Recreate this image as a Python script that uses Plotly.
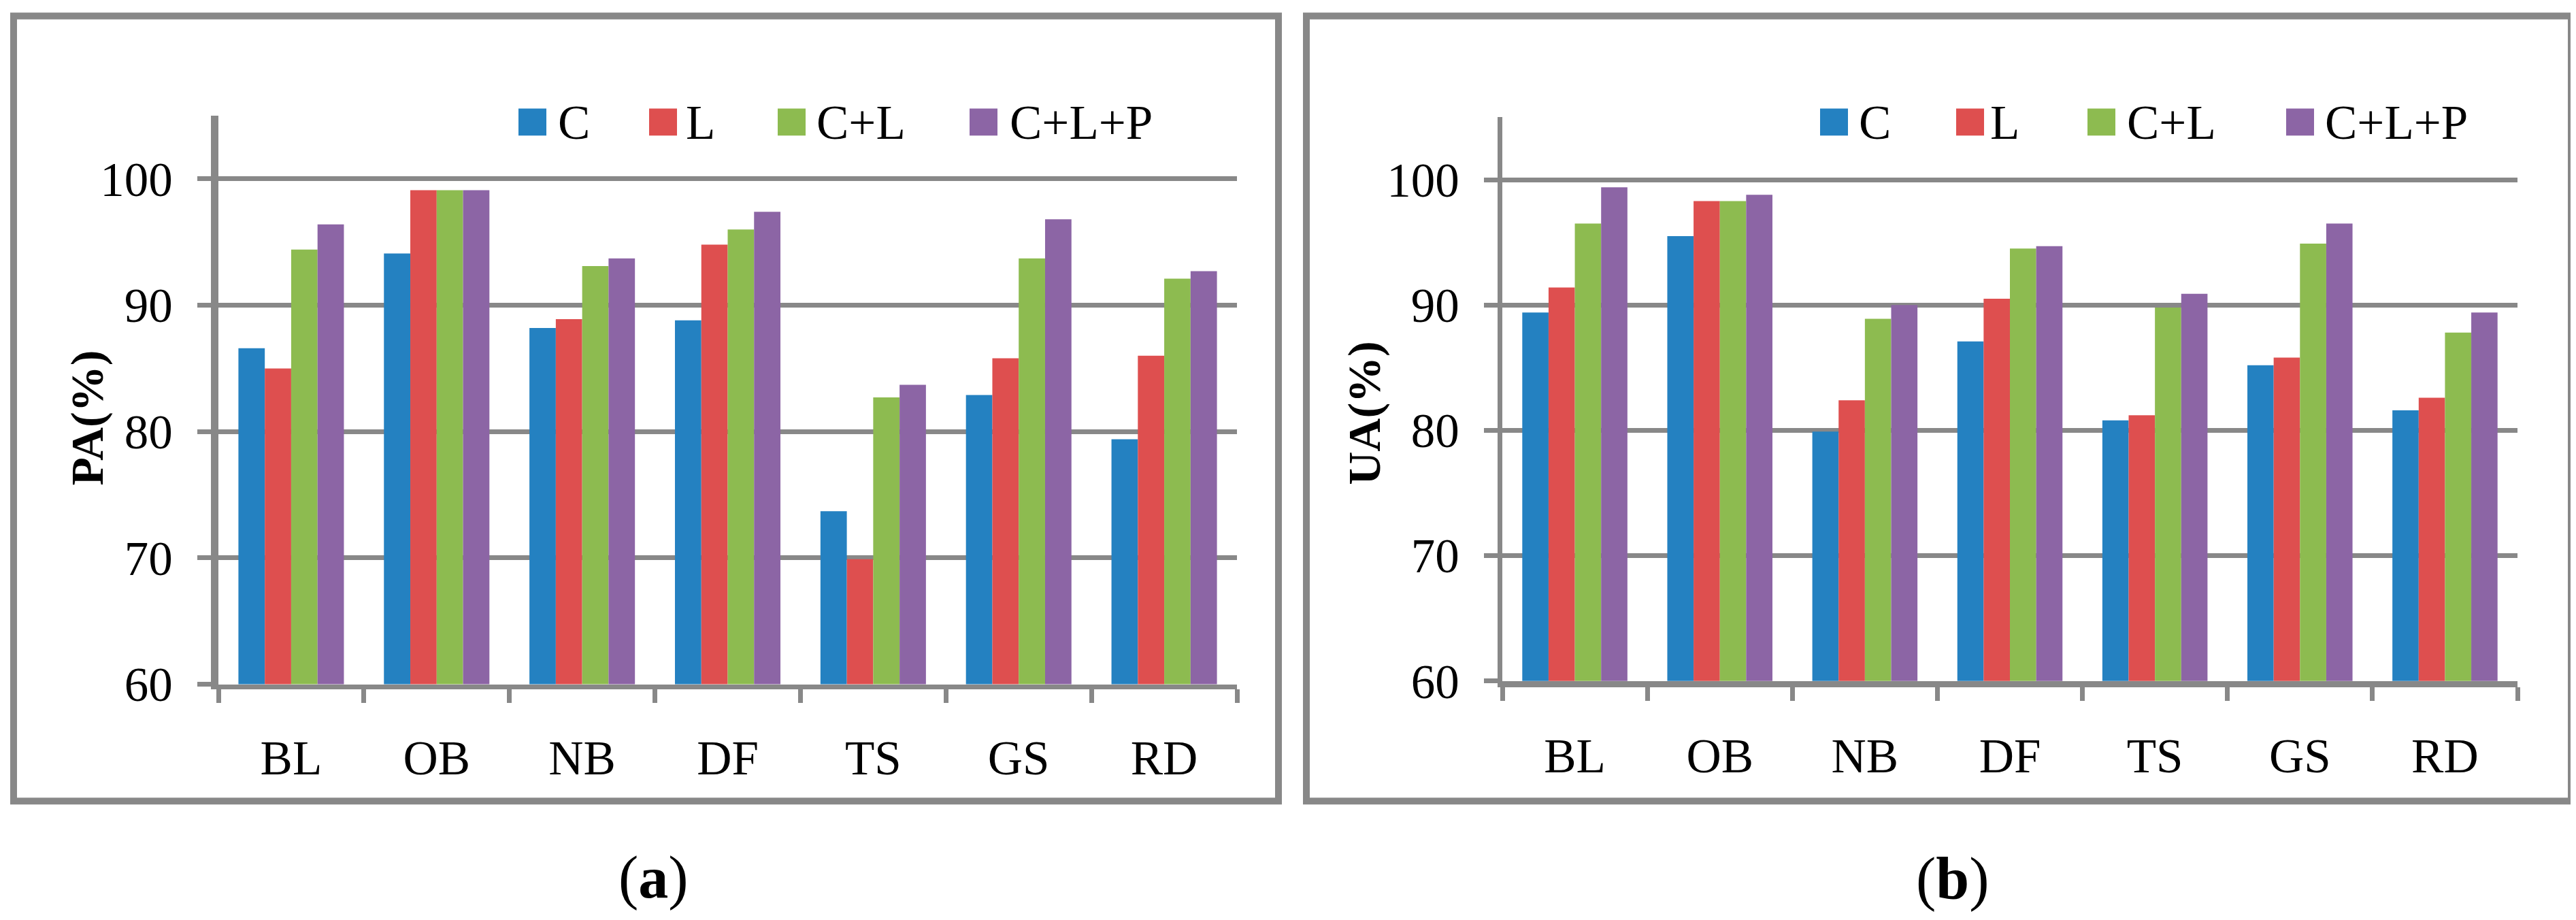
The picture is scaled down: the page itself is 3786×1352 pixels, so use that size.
import plotly.graph_objects as go

W, H = 3786, 1352

categories = ["BL", "OB", "NB", "DF", "TS", "GS", "RD"]
series_names = ["C", "L", "C+L", "C+L+P"]
colors = ["#2481C1", "#DE4F4F", "#8DBB50", "#8C65A5"]

pa_C = [86.6, 94.1, 88.2, 88.8, 73.7, 82.9, 79.4]
pa_L = [85.0, 99.1, 88.9, 94.8, 69.9, 85.8, 86.0]
pa_CL = [94.4, 99.1, 93.1, 96.0, 82.7, 93.7, 92.1]
pa_CLP = [96.4, 99.1, 93.7, 97.4, 83.7, 96.8, 92.7]

ua_C = [89.4, 95.5, 79.9, 87.1, 80.8, 85.2, 81.6]
ua_L = [91.4, 98.3, 82.4, 90.5, 81.2, 85.8, 82.6]
ua_CL = [96.5, 98.3, 88.9, 94.5, 89.8, 94.9, 87.8]
ua_CLP = [99.4, 98.8, 90.0, 94.7, 90.9, 96.5, 89.4]

pa_series = [pa_C, pa_L, pa_CL, pa_CLP]
ua_series = [ua_C, ua_L, ua_CL, ua_CLP]

y_ticks = [60, 70, 80, 90, 100]
y_range = [60, 105]

FONT = "Liberation Serif"
GRAY = "#888888"


def px(x):
    return x / W


def py(y):
    return 1 - y / H


fig = go.Figure()
for vals, name, col in zip(pa_series, series_names, colors):
    fig.add_trace(go.Bar(x=categories, y=vals, name=name, marker_color=col,
                         marker_line_width=0, xaxis="x", yaxis="y", showlegend=False))
for vals, name, col in zip(ua_series, series_names, colors):
    fig.add_trace(go.Bar(x=categories, y=vals, name=name, marker_color=col,
                         marker_line_width=0, xaxis="x2", yaxis="y2", showlegend=False))

xcommon = dict(type="category", showgrid=False, showline=True, linecolor=GRAY,
               ticks="outside", ticklen=20, tickwidth=7, tickcolor=GRAY,
               tickson="boundaries", tickfont=dict(family=FONT, size=71, color="black"),
               ticklabelstandoff=40, fixedrange=True)
ycommon = dict(range=y_range, tickvals=y_ticks, showgrid=True, gridcolor=GRAY, gridwidth=7,
               showline=True, linecolor=GRAY, ticks="outside", ticklen=20, tickwidth=7,
               tickcolor=GRAY, tickfont=dict(family=FONT, size=71, color="black"),
               ticklabelstandoff=22, zeroline=False, fixedrange=True)

fig.update_layout(
    width=W, height=H, autosize=False,
    margin=dict(l=0, r=0, t=0, b=0),
    paper_bgcolor="white", plot_bgcolor="white",
    barmode="group", bargap=0.275, bargroupgap=0,
    xaxis=dict(domain=[px(313), px(1810)], anchor="y", linewidth=7, **xcommon),
    yaxis=dict(domain=[py(1028), py(167)], anchor="x", linewidth=11, **ycommon),
    xaxis2=dict(domain=[px(2200), px(3692)], anchor="y2", linewidth=9, **xcommon),
    yaxis2=dict(domain=[py(1023), py(169)], anchor="x2", linewidth=7, **ycommon),
)

shapes = []
annotations = []

# panel borders
for x0, x1 in [(12, 1871), (1912, 3771)]:
    shapes.append(dict(type="rect", xref="paper", yref="paper",
                       x0=px(x0), x1=px(x1), y0=py(1205), y1=py(16),
                       line=dict(color=GRAY, width=10), fillcolor="rgba(0,0,0,0)"))

# legends
legend_sets = [
    ([754, 946, 1135, 1417], [814, 1002, 1194, 1478]),
    ([2667, 2867, 3060, 3352], [2726, 2919, 3120, 3411]),
]
for sw_x, tx_x in legend_sets:
    for name, col, sx, tx in zip(series_names, colors, sw_x, tx_x):
        shapes.append(dict(type="rect", xref="paper", yref="paper",
                           x0=px(sx), x1=px(sx + 41), y0=py(197), y1=py(156),
                           line=dict(width=0), fillcolor=col))
        annotations.append(dict(xref="paper", yref="paper", x=px(tx - 4), y=py(177),
                                xanchor="left", yanchor="middle", showarrow=False,
                                text=name, font=dict(family=FONT, size=71, color="black")))

# axis titles
annotations.append(dict(xref="paper", yref="paper", x=px(120), y=py(625), textangle=-90,
                        xanchor="center", yanchor="middle", showarrow=False,
                        text="<b>PA(%)</b>", font=dict(family=FONT, size=68, color="black")))
annotations.append(dict(xref="paper", yref="paper", x=px(1997), y=py(617), textangle=-90,
                        xanchor="center", yanchor="middle", showarrow=False,
                        text="<b>UA(%)</b>", font=dict(family=FONT, size=68, color="black")))

# panel labels
annotations.append(dict(xref="paper", yref="paper", x=px(952), y=py(1321),
                        xanchor="center", yanchor="middle", showarrow=False,
                        text="(<b>a</b>)", font=dict(family=FONT, size=88, color="black")))
annotations.append(dict(xref="paper", yref="paper", x=px(2862), y=py(1323),
                        xanchor="center", yanchor="middle", showarrow=False,
                        text="(<b>b</b>)", font=dict(family=FONT, size=88, color="black")))

fig.update_layout(shapes=shapes, annotations=annotations)

fig.write_html("out.html", config={"displayModeBar": False})
